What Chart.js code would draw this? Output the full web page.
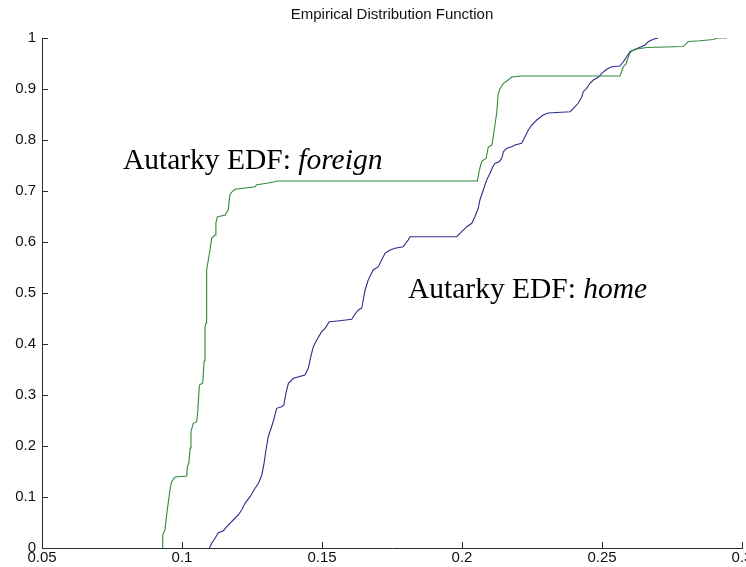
<!DOCTYPE html>
<html>
<head>
<meta charset="utf-8">
<script src="https://cdn.jsdelivr.net/npm/chart.js@4/dist/chart.umd.min.js"></script>
<style>
  html, body { margin: 0; padding: 0; background: #ffffff; }
  #wrap { width: 746px; height: 567px; }
</style>
</head>
<body>
<div id="wrap"><canvas id="edf" width="746" height="567"></canvas></div>
<script>
// Title and axis ticks
const chartTitle = 'Empirical Distribution Function';
const xTickValues = [0.05, 0.1, 0.15, 0.2, 0.25, 0.3];
const xTickLabels = ['0.05', '0.1', '0.15', '0.2', '0.25', '0.3'];
const yTickValues = [0, 0.1, 0.2, 0.3, 0.4, 0.5, 0.6, 0.7, 0.8, 0.9, 1];
const yTickLabels = ['0', '0.1', '0.2', '0.3', '0.4', '0.5', '0.6', '0.7', '0.8', '0.9', '1'];

// Autarky EDF, foreign
const foreignX = [0.0929, 0.0931, 0.0939, 0.0946, 0.0957, 0.0963, 0.0975, 0.1017, 0.1019, 0.1025,
  0.1029, 0.1032, 0.1040, 0.1052, 0.1056, 0.1062, 0.1074, 0.1079, 0.1082, 0.1086,
  0.1088, 0.1094, 0.1100, 0.1106, 0.1118, 0.1121, 0.1126, 0.1154, 0.1160, 0.1165,
  0.1171, 0.1178, 0.1189, 0.1261, 0.1267, 0.1303, 0.1332, 0.1339, 0.2055, 0.2062,
  0.2071, 0.2086, 0.2094, 0.2107, 0.2114, 0.2124, 0.2129, 0.2136, 0.2148, 0.2165,
  0.2178, 0.2213, 0.2564, 0.2570, 0.2576, 0.2586, 0.2590, 0.2598, 0.2606, 0.2624,
  0.2660, 0.2790, 0.2808, 0.2850, 0.2898, 0.2910, 0.2946];
const foreignY = [0, 0.0255, 0.0353, 0.0686, 0.1137, 0.1300, 0.1392, 0.1412, 0.1588, 0.1686,
  0.1961, 0.2275, 0.2445, 0.2471, 0.2647, 0.3196, 0.3235, 0.3667, 0.4333, 0.4412,
  0.5451, 0.5647, 0.5843, 0.6078, 0.6137, 0.6373, 0.6490, 0.6529, 0.6588, 0.6627,
  0.6922, 0.6980, 0.7033, 0.7084, 0.7124, 0.7151, 0.7182, 0.7196, 0.7196, 0.7412,
  0.7588, 0.7637, 0.7863, 0.7902, 0.8157, 0.8529, 0.8902, 0.9010, 0.9112, 0.9176,
  0.9235, 0.9255, 0.9255, 0.9339, 0.9437, 0.9490, 0.9569, 0.9686, 0.9745, 0.9784,
  0.9814, 0.9833, 0.9931, 0.9945, 0.9971, 1.0, 1.0];

// Autarky EDF, home
const homeX = [0.1098, 0.1106, 0.1118, 0.1130, 0.1148, 0.1160, 0.1171, 0.1183, 0.1201, 0.1213,
  0.1225, 0.1243, 0.1261, 0.1273, 0.1285, 0.1293, 0.1300, 0.1308, 0.1320, 0.1329,
  0.1338, 0.1356, 0.1364, 0.1371, 0.1380, 0.1398, 0.1439, 0.1451, 0.1460, 0.1469,
  0.1481, 0.1499, 0.1511, 0.1526, 0.1564, 0.1606, 0.1618, 0.1630, 0.1642, 0.1654,
  0.1665, 0.1683, 0.1701, 0.1713, 0.1725, 0.1743, 0.1761, 0.1790, 0.1808, 0.1814,
  0.1981, 0.1999, 0.2017, 0.2035, 0.2046, 0.2058, 0.2064, 0.2076, 0.2088, 0.2100,
  0.2110, 0.2118, 0.2133, 0.2142, 0.2148, 0.2160, 0.2178, 0.2189, 0.2213, 0.2225,
  0.2237, 0.2249, 0.2267, 0.2290, 0.2308, 0.2386, 0.2398, 0.2415, 0.2428, 0.2433,
  0.2445, 0.2457, 0.2469, 0.2487, 0.2499, 0.2517, 0.2535, 0.2564, 0.2576, 0.2588,
  0.2600, 0.2618, 0.2636, 0.2654, 0.2665, 0.2683, 0.2701];
const homeY = [0, 0.0092, 0.0190, 0.0300, 0.0339, 0.0418, 0.0484, 0.0549, 0.0647, 0.0745,
  0.0876, 0.1006, 0.1171, 0.1269, 0.1431, 0.1661, 0.1922, 0.2182, 0.2378, 0.2543,
  0.2739, 0.2771, 0.2804, 0.3033, 0.3229, 0.3327, 0.3392, 0.3524, 0.3751, 0.3947,
  0.4078, 0.4241, 0.4308, 0.4437, 0.4457, 0.4484, 0.4588, 0.4667, 0.4706, 0.5059,
  0.5255, 0.5451, 0.5516, 0.5647, 0.5778, 0.5843, 0.5876, 0.5908, 0.6039, 0.6104,
  0.6104, 0.6202, 0.6300, 0.6367, 0.6496, 0.6661, 0.6824, 0.7020, 0.7216, 0.7347,
  0.7476, 0.7543, 0.7575, 0.7641, 0.7771, 0.7837, 0.7869, 0.7902, 0.7935, 0.8065,
  0.8196, 0.8294, 0.8392, 0.8490, 0.8529, 0.8555, 0.8622, 0.8720, 0.8849, 0.8947,
  0.9014, 0.9112, 0.9176, 0.9229, 0.9308, 0.9386, 0.9437, 0.9451, 0.9535, 0.9633,
  0.9731, 0.9778, 0.9818, 0.9863, 0.9927, 0.9975, 1.0];

// Curve captions
const captionPrefix = 'Autarky EDF: ';
const captionWords = ['foreign', 'home'];

const toPoints = (xs, ys) => xs.map((x, i) => ({ x: x, y: ys[i] }));

const sansFont = '"Liberation Sans", Arial, Helvetica, sans-serif';
const serifFont = '"Liberation Serif", "Times New Roman", serif';

// Title centred over the plot area rather than over the whole canvas
const axesTitle = {
  id: 'axesTitle',
  afterDraw(chart) {
    const { ctx, chartArea } = chart;
    ctx.save();
    ctx.fillStyle = '#111111';
    ctx.font = '15px ' + sansFont;
    ctx.textAlign = 'center';
    ctx.textBaseline = 'middle';
    ctx.fillText(chartTitle, (chartArea.left + chartArea.right) / 2, 15);
    ctx.restore();
  }
};

// Small tick marks pointing into the plot area, as in a classic MATLAB axes
const innerTicks = {
  id: 'innerTicks',
  afterDatasetsDraw(chart) {
    const { ctx, chartArea, scales } = chart;
    const len = 6;
    ctx.save();
    ctx.strokeStyle = '#2b2b2b';
    ctx.lineWidth = 1;
    ctx.beginPath();
    xTickValues.forEach(v => {
      const px = Math.round(scales.x.getPixelForValue(v)) + 0.5;
      ctx.moveTo(px, chartArea.bottom);
      ctx.lineTo(px, chartArea.bottom - len);
    });
    yTickValues.forEach(v => {
      const py = Math.round(scales.y.getPixelForValue(v)) + 0.5;
      ctx.moveTo(chartArea.left, py);
      ctx.lineTo(chartArea.left + len, py);
    });
    ctx.stroke();
    ctx.restore();
  }
};

// Serif captions next to each curve, with the series name in italics
const curveCaptions = {
  id: 'curveCaptions',
  afterDraw(chart) {
    const { ctx, scales } = chart;
    const anchors = [
      { x: 0.0789, y: 0.743 },
      { x: 0.1807, y: 0.490 }
    ];
    ctx.save();
    ctx.fillStyle = '#000000';
    ctx.textBaseline = 'alphabetic';
    ctx.textAlign = 'left';
    anchors.forEach((a, i) => {
      const px = scales.x.getPixelForValue(a.x);
      const py = scales.y.getPixelForValue(a.y);
      ctx.font = '29.5px ' + serifFont;
      ctx.fillText(captionPrefix, px, py);
      const w = ctx.measureText(captionPrefix).width;
      ctx.font = 'italic 29.5px ' + serifFont;
      ctx.fillText(captionWords[i], px + w, py);
    });
    ctx.restore();
  }
};

new Chart(document.getElementById('edf'), {
  type: 'scatter',
  data: {
    datasets: [
      {
        label: 'foreign',
        data: toPoints(foreignX, foreignY),
        showLine: true,
        borderColor: '#2e8a3a',
        borderWidth: 1.1,
        pointRadius: 0,
        fill: false,
        tension: 0
      },
      {
        label: 'home',
        data: toPoints(homeX, homeY),
        showLine: true,
        borderColor: '#2b2d8e',
        borderWidth: 1.1,
        pointRadius: 0,
        fill: false,
        tension: 0
      }
    ]
  },
  options: {
    responsive: false,
    devicePixelRatio: 1,
    animation: false,
    layout: { padding: { left: 0, right: 4, top: 38, bottom: 0 } },
    plugins: {
      legend: { display: false },
      tooltip: { enabled: false },
      title: { display: false }
    },
    scales: {
      x: {
        type: 'linear',
        min: 0.05,
        max: 0.3,
        afterBuildTicks: s => { s.ticks = xTickValues.map(v => ({ value: v })); },
        afterFit: s => { s.height = 19; s.paddingLeft = 0; s.paddingRight = 0; },
        ticks: {
          callback: (v, i) => xTickLabels[i],
          color: '#111111',
          font: { family: sansFont, size: 15 },
          padding: 1,
          maxRotation: 0,
          autoSkip: false
        },
        grid: { display: false, drawTicks: false },
        border: { display: true, color: '#2b2b2b', width: 1 }
      },
      y: {
        type: 'linear',
        min: 0,
        max: 1,
        afterBuildTicks: s => { s.ticks = yTickValues.map(v => ({ value: v })); },
        afterFit: s => { s.width = 42; s.paddingTop = 0; },
        ticks: {
          callback: (v, i) => yTickLabels[i],
          color: '#111111',
          font: { family: sansFont, size: 15 },
          padding: 6,
          autoSkip: false
        },
        grid: { display: false, drawTicks: false },
        border: { display: true, color: '#2b2b2b', width: 1 }
      }
    }
  },
  plugins: [innerTicks, curveCaptions, axesTitle]
});
</script>
</body>
</html>
